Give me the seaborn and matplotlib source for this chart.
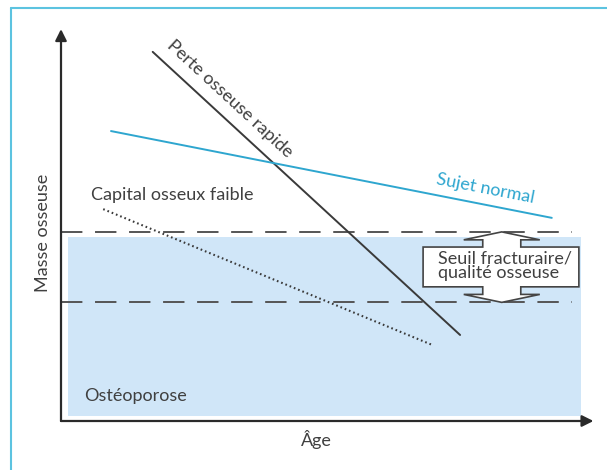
import matplotlib
matplotlib.use("Agg")
import matplotlib.pyplot as plt
import seaborn as sns
import pandas as pd
from matplotlib.patches import Rectangle, Polygon
from matplotlib.lines import Line2D

# ---- data (conceptual units: age 0-100, bone mass 0-100) ----
rapid_age = [17.6, 76.6]
rapid_mass = [97.4, 22.7]
normal_age = [9.6, 94.2]
normal_mass = [76.5, 53.6]
low_age = [8.1, 71.2]
low_mass = [55.9, 20.1]
threshold_upper = 49.9
threshold_lower = 31.3
osteo_top = 48.5

labels = {
    "rapid": "Perte osseuse rapide",
    "normal": "Sujet normal",
    "low": "Capital osseux faible",
    "osteo": "Ostéoporose",
    "threshold": "Seuil fracturaire/\nqualité osseuse",
    "ylabel": "Masse osseuse",
    "xlabel": "Âge",
}

sns.set_theme(style="white")
plt.rcParams["font.family"] = ["Lato", "DejaVu Sans"]

W, H = 607, 470
fig = plt.figure(figsize=(W / 100, H / 100), dpi=100)
fig.patch.set_facecolor("white")

x0, x1, y0, y1 = 61, 582, 421, 42
ax = fig.add_axes([x0 / W, 1 - y0 / H, (x1 - x0) / W, (y0 - y1) / H])
ax.set_xlim(0, 100)
ax.set_ylim(0, 100)
ax.axis("off")

dark = "#3a3a3a"
cyan = "#2ea6cf"
fill = "#d0e6f8"

# outer cyan frame
fig.add_artist(Line2D([11 / W, 11 / W], [0, 1 - 8 / H], color="#5cc3e0", lw=1.5))
fig.add_artist(Line2D([11 / W, 1.0], [1 - 8 / H, 1 - 8 / H], color="#5cc3e0", lw=1.5))

# osteoporosis zone
ax.add_patch(Rectangle((1.3, 1.3), 98.5, osteo_top - 1.3, facecolor=fill, edgecolor="none", zorder=0))

# thresholds
for yv in (threshold_upper, threshold_lower):
    ax.plot([0, 98.1], [yv, yv], color="#555555", lw=1.4, dashes=(11, 6.5), zorder=1)

df_rapid = pd.DataFrame({"age": rapid_age, "mass": rapid_mass})
df_normal = pd.DataFrame({"age": normal_age, "mass": normal_mass})
df_low = pd.DataFrame({"age": low_age, "mass": low_mass})
sns.lineplot(data=df_rapid, x="age", y="mass", ax=ax, color=dark, lw=1.4, sort=False, zorder=3)
sns.lineplot(data=df_normal, x="age", y="mass", ax=ax, color=cyan, lw=1.4, sort=False, zorder=3)
sns.lineplot(data=df_low, x="age", y="mass", ax=ax, color=dark, lw=1.5, sort=False,
             linestyle=(0, (0.8, 1.4)), zorder=3)
ax.set_xlabel("")
ax.set_ylabel("")

ax.annotate("", xy=(0, 103.4), xytext=(0, 0), xycoords="data",
            arrowprops=dict(arrowstyle="-|>", color="#2a2a2a", lw=1.6, mutation_scale=17,
                            shrinkA=0, shrinkB=0), annotation_clip=False)
ax.annotate("", xy=(102.2, 0), xytext=(0, 0), xycoords="data",
            arrowprops=dict(arrowstyle="-|>", color="#2a2a2a", lw=1.6, mutation_scale=17,
                            shrinkA=0, shrinkB=0), annotation_clip=False)

# double arrow box
cx = 84.6
sw, hw, hl = 3.65, 7.3, 2.1
bx0, bx1, by0, by1 = 69.5, 99.4, 35.4, 45.9
poly = [
    (cx, threshold_upper), (cx + hw, threshold_upper - hl), (cx + sw, threshold_upper - hl),
    (cx + sw, by1), (bx1, by1), (bx1, by0), (cx + sw, by0),
    (cx + sw, threshold_lower + hl), (cx + hw, threshold_lower + hl), (cx, threshold_lower),
    (cx - hw, threshold_lower + hl), (cx - sw, threshold_lower + hl), (cx - sw, by0),
    (bx0, by0), (bx0, by1), (cx - sw, by1), (cx - sw, threshold_upper - hl),
    (cx - hw, threshold_upper - hl),
]
ax.add_patch(Polygon(poly, closed=True, facecolor="white", edgecolor="#444444", lw=1.2, zorder=4))

tc = "#404040"
fs = 13
ax.text(32.5, 85.0, labels["rapid"], rotation=-42.7, ha="center", va="center",
        fontsize=fs, color=tc, rotation_mode="anchor")
ax.text(81.4, 61.4, labels["normal"], rotation=-11, ha="center", va="center",
        fontsize=fs, color=cyan, rotation_mode="anchor")
ax.text(5.8, 59.6, labels["low"], ha="left", va="center", fontsize=fs, color=tc)
ax.text(4.4, 6.6, labels["osteo"], ha="left", va="center", fontsize=fs, color=tc)
ax.text(72.4, 40.9, labels["threshold"], ha="left", va="center", fontsize=fs, color=tc,
        linespacing=0.85, zorder=5)
ax.text(-3.45, 49.6, labels["ylabel"], rotation=90, ha="center", va="center",
        fontsize=fs, color=tc)
ax.text(49.1, -5.0, labels["xlabel"], ha="center", va="center", fontsize=fs, color=tc)

fig.savefig("out.png", dpi=100, facecolor="white")
